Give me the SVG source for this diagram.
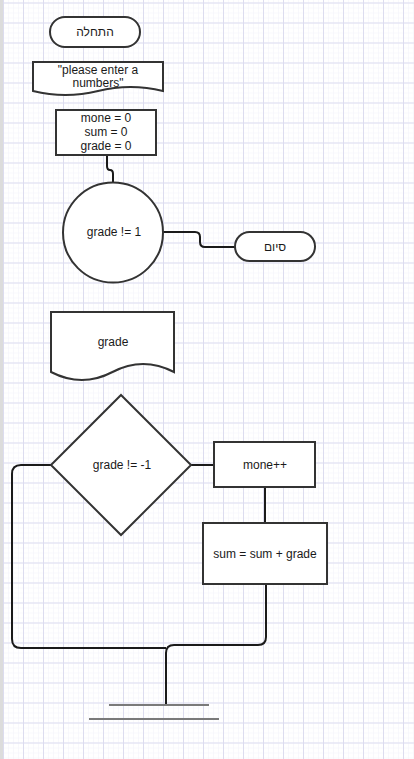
<svg xmlns="http://www.w3.org/2000/svg" width="414" height="759" viewBox="0 0 414 759">
<defs>
<pattern id="minor" x="3" y="2.5" width="5" height="5" patternUnits="userSpaceOnUse">
<path d="M0,0 V5 M0,0 H5" fill="none" stroke="#f2f2f9" stroke-width="1"/>
</pattern>
<pattern id="major" x="3" y="2.5" width="20" height="20" patternUnits="userSpaceOnUse">
<path d="M0.5,0 V20 M0,0.5 H20" fill="none" stroke="#dcdcef" stroke-width="1"/>
</pattern>
</defs>
<style>
.shape{fill:#ffffff;stroke:#333333;stroke-width:2}
.conn{fill:none;stroke:#1a1a1a;stroke-width:2}
.lbl{font-family:"Liberation Sans",Arial,"Noto Sans",sans-serif;font-size:12px;fill:#1a1a1a;text-anchor:middle;dominant-baseline:central}
.gnd{fill:none;stroke:#7a7a7a;stroke-width:2}
</style>
<rect x="0" y="0" width="414" height="759" fill="#ffffff"/>
<rect x="0" y="0" width="414" height="759" fill="url(#minor)"/>
<rect x="0" y="0" width="414" height="759" fill="url(#major)"/>
<rect x="0" y="0" width="3" height="759" fill="#dcdcdc"/>

<g id="connectors">
<path class="conn" d="M107,155 V166 Q107,170 110,170 Q113,170 113,174 V182"/>
<path class="conn" d="M163,232 H195 Q200,232 200,237 V242 Q200,247 205,247 H235"/>
<path class="conn" d="M191,465 H214"/>
<path class="conn" d="M265,487 V523"/>
<path class="conn" d="M266,584 V637 Q266,645 258,645 H174 Q166,645 166,653 V705"/>
<path class="conn" d="M51,465 H21 Q12,465 12,474 V639 Q12,648 21,648 H166"/>
</g>

<g id="start">
<rect class="shape" x="50" y="17" width="90" height="30" rx="15" ry="15"/>
<text class="lbl" x="95" y="32">התחלה</text>
</g>

<g id="prompt">
<path class="shape" d="M33,62 H163 V91 Q130.5,83 98,91 Q65.5,99 33,91 Z"/>
<text class="lbl" x="98" y="70">"please enter a</text>
<text class="lbl" x="98" y="83">numbers"</text>
</g>

<g id="init">
<rect class="shape" x="56" y="110" width="100" height="45"/>
<text class="lbl" x="106" y="118">mone = 0</text>
<text class="lbl" x="106" y="132">sum = 0</text>
<text class="lbl" x="106" y="146">grade = 0</text>
</g>

<g id="loopcheck">
<circle class="shape" cx="113" cy="232.5" r="50"/>
<text class="lbl" x="114" y="232">grade != 1</text>
</g>

<g id="end">
<rect class="shape" x="235" y="232" width="80" height="29" rx="14.5" ry="14.5"/>
<text class="lbl" x="275" y="247">סיום</text>
</g>

<g id="input">
<path class="shape" d="M51,312 H174 V372 Q143,356 112.5,372 Q82,388 51,372 Z"/>
<text class="lbl" x="113" y="342">grade</text>
</g>

<g id="decision">
<polygon class="shape" points="121,395 191,465 121,535 51,465"/>
<text class="lbl" x="122" y="465">grade != -1</text>
</g>

<g id="inc">
<rect class="shape" x="214" y="442" width="101" height="45"/>
<text class="lbl" x="265" y="465">mone++</text>
</g>

<g id="sum">
<rect class="shape" x="203" y="523" width="124" height="61"/>
<text class="lbl" x="265" y="554">sum = sum + grade</text>
</g>

<g id="ground">
<path class="gnd" d="M109,705 H209 M89,719 H219"/>
</g>
</svg>
